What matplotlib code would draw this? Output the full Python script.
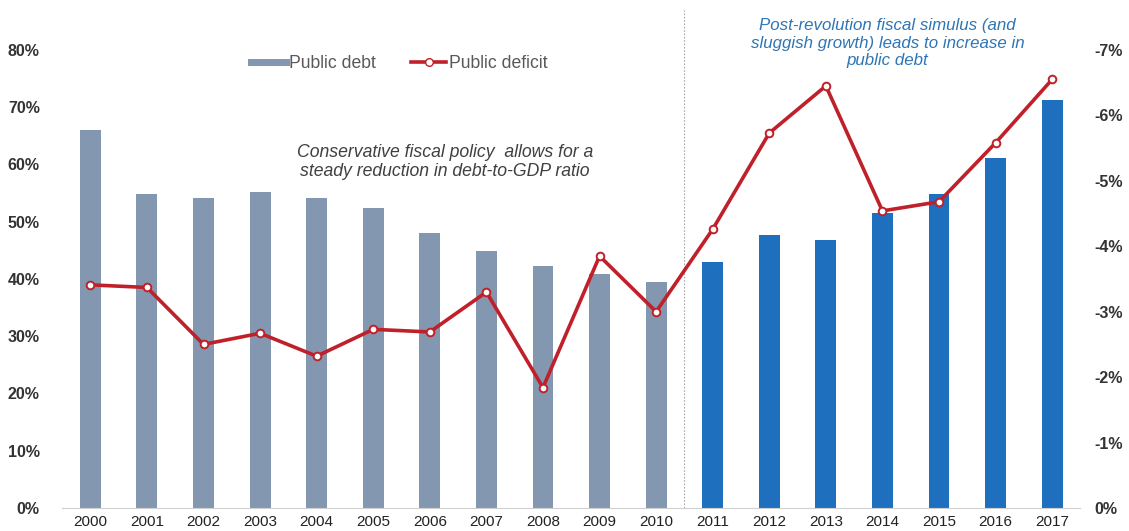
import numpy as np
import matplotlib
matplotlib.use("Agg")
import matplotlib.pyplot as plt
from matplotlib.lines import Line2D

plt.rcParams["font.family"] = ["Liberation Sans", "DejaVu Sans"]

# data
years = ["2000", "2001", "2002", "2003", "2004", "2005", "2006", "2007", "2008",
         "2009", "2010", "2011", "2012", "2013", "2014", "2015", "2016", "2017"]
public_debt = [66.0, 54.9, 54.2, 55.2, 54.2, 52.4, 48.0, 44.9, 42.2,
               40.8, 39.5, 43.0, 47.7, 46.8, 51.6, 54.9, 61.2, 71.3]
public_deficit = [-3.41, -3.37, -2.50, -2.67, -2.32, -2.73, -2.69, -3.30, -1.84,
                  -3.85, -3.00, -4.26, -5.73, -6.45, -4.54, -4.68, -5.58, -6.55]
left_ticks = [0, 10, 20, 30, 40, 50, 60, 70, 80]
right_ticks = [0, -1, -2, -3, -4, -5, -6, -7]

gray = "#8497B0"
blue = "#1F6FBF"
red = "#C0202A"

fig = plt.figure(figsize=(11.29, 5.31), dpi=100)
ax = fig.add_axes([0.055, 0.0433, 0.902, 0.8627])
x = np.arange(len(years))
colors = [gray if int(y) <= 2010 else blue for y in years]
ax.bar(x, public_debt, width=0.37, color=colors, zorder=2)

ax.set_xlim(-0.5, len(years) - 0.5)
ax.set_ylim(0, 80)
ax.set_yticks(left_ticks)
ax.set_yticklabels([f"{t}%" for t in left_ticks], fontsize=11.5, fontweight="bold", color="#333333")
ax.set_xticks(x)
ax.set_xticklabels(years, fontsize=11, color="#222222")
ax.tick_params(length=0, pad=5)
ax.tick_params(axis="y", pad=16)
for s in ["top", "right", "left"]:
    ax.spines[s].set_visible(False)
ax.spines["bottom"].set_color("#D0D0D0")

ax2 = ax.twinx()
ax2.plot(x, public_deficit, color=red, lw=2.6, marker="o", markersize=5.5,
         markerfacecolor="white", markeredgecolor=red, markeredgewidth=1.4, zorder=3)
ax2.set_ylim(0, -7)
ax2.set_yticks(right_ticks)
ax2.set_yticklabels([f"{t}%" for t in right_ticks],
                    fontsize=11.5, fontweight="bold", color="#333333")
ax2.tick_params(length=0, pad=10)
for s in ["top", "right", "left", "bottom"]:
    ax2.spines[s].set_visible(False)

# divider between periods
ax.axvline(10.5, ymin=0, ymax=1.087, color="#AAAAAA", lw=0.8, ls=(0, (1.5, 1.5)), clip_on=False)

ax.text(6.27, 60.5, "Conservative fiscal policy  allows for a\nsteady reduction in debt-to-GDP ratio",
        ha="center", va="center", style="italic", fontsize=12.7, color="#404040", linespacing=1.15)
ax.text(14.09, 81.2, "Post-revolution fiscal simulus (and\nsluggish growth) leads to increase in\npublic debt",
        ha="center", va="center", style="italic", fontsize=12.2, color="#2E75B6", linespacing=1.2,
        clip_on=False)

handles = [Line2D([0], [0], color=gray, lw=5),
           Line2D([0], [0], color=red, lw=2.6, marker="o", markersize=5.5,
                  markerfacecolor="white", markeredgecolor=red)]
leg = ax.legend(handles, ["Public debt", "Public deficit"], loc="center left",
                bbox_to_anchor=(0.17, 0.97), ncol=2, frameon=False, fontsize=12.7,
                handlelength=2.0, handletextpad=0.15, columnspacing=2.0)
for t in leg.get_texts():
    t.set_color("#595959")

fig.savefig("out.png", dpi=100)
